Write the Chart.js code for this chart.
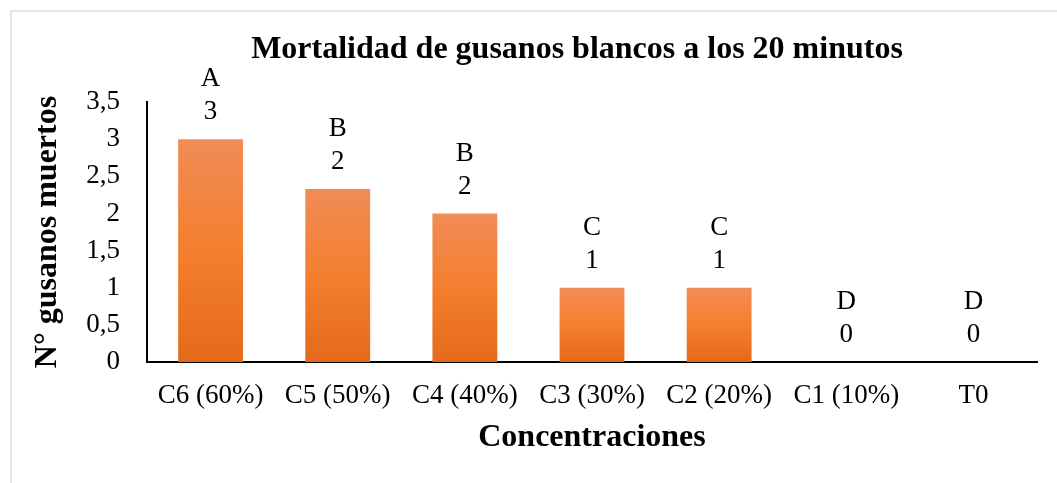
<!DOCTYPE html>
<html lang="es">
  <head>
    <meta charset="utf-8">
    <title>Mortalidad de gusanos blancos</title>
    <style>
      html, body{ margin: 0; padding: 0; background: #fff; }
      #marco{
        position: absolute; left: 10px; top: 10px; width: 1100px; height: 500px;
        border-left: 2px solid #e1e5ec; border-top: 2px solid #e1e5ec;
      }
      #wrap{ position: absolute; left: 0; top: 0; width: 1057px; height: 483px; }
    </style>
  </head>
  <body>
    <div id="marco"></div>
    <div id="wrap"><canvas id="grafico"></canvas></div>
  <script src="https://cdn.jsdelivr.net/npm/chart.js@4"></script>
  <script>
  var CATEGORIAS = ['C6 (60%)', 'C5 (50%)', 'C4 (40%)', 'C3 (30%)', 'C2 (20%)', 'C1 (10%)', 'T0'];
  var MUERTOS = [3, 2.33, 2, 1, 1, 0, 0];
  var LETRAS = ['A', 'B', 'B', 'C', 'C', 'D', 'D'];
  var TITULO = 'Mortalidad de gusanos blancos a los 20 minutos';

  var serif = '"Liberation Serif", "Times New Roman", serif';

  function gradiente(ctx){
    var chart = ctx.chart;
    var y = chart.scales.y;
    if(!chart.chartArea || !y) return '#f47f2e';
    var top = y.getPixelForValue(MUERTOS[ctx.dataIndex]);
    var base = y.getPixelForValue(0);
    if(base - top < 1) return '#f47f2e';
    var g = chart.ctx.createLinearGradient(0, top, 0, base);
    g.addColorStop(0, '#f08c56');
    g.addColorStop(0.5, '#f47f2e');
    g.addColorStop(1, '#e46a1b');
    return g;
  }

  // letras y valores encima de cada barra, y el titulo
  var etiquetas = {
    id: 'etiquetas',
    afterDatasetsDraw: function(chart){
      var c = chart.ctx;
      var meta = chart.getDatasetMeta(0);
      c.save();
      c.fillStyle = '#000';
      c.textAlign = 'center';
      c.textBaseline = 'middle';
      c.font = '27px ' + serif;
      meta.data.forEach(function(bar, i){
        c.fillText(String(Math.round(MUERTOS[i])), bar.x, bar.y - 27);
        c.fillText(LETRAS[i], bar.x, bar.y - 60);
      });
      c.font = 'bold 32px ' + serif;
      c.fillText(TITULO, 577, 50);
      c.restore();
    }
  };

  var ctx = document.getElementById('grafico').getContext('2d');
  var chart = new Chart(ctx, {
    type: 'bar',
    data: {
      labels: CATEGORIAS,
      datasets: [{
        data: MUERTOS,
        backgroundColor: gradiente,
        barPercentage: 0.51,
        categoryPercentage: 1
      }]
    },
    options: {
      responsive: true,
      maintainAspectRatio: false,
      animation: false,
      layout: { padding: { left: 0, right: 20, top: 102, bottom: 0 } },
      plugins: {
        legend: { display: false },
        tooltip: { enabled: false }
      },
      scales: {
        x: {
          afterFit: function(s){ s.height = 121; },
          grid: { display: false, drawTicks: false },
          border: { display: true, color: '#000', width: 2 },
          ticks: { color: '#000', font: { family: serif, size: 27 }, padding: 18, maxRotation: 0, autoSkip: false },
          title: { display: true, text: 'Concentraciones', color: '#000',
                   font: { family: serif, size: 32, weight: 'bold' }, padding: { top: 0, bottom: 26 } }
        },
        y: {
          min: 0, max: 3.5,
          afterFit: function(s){ s.width = 147; },
          grid: { display: false, drawTicks: false },
          border: { display: true, color: '#000', width: 2 },
          ticks: {
            stepSize: 0.5, color: '#000', padding: 27,
            font: { family: serif, size: 27 },
            callback: function(v){ return String(v).replace('.', ','); }
          },
          title: { display: true, text: 'N° gusanos muertos', color: '#000',
                   font: { family: serif, size: 32, weight: 'bold' }, padding: { top: 29, bottom: 0 } }
        }
      }
    },
    plugins: [etiquetas]
  });
  </script>
  </body>
</html>
